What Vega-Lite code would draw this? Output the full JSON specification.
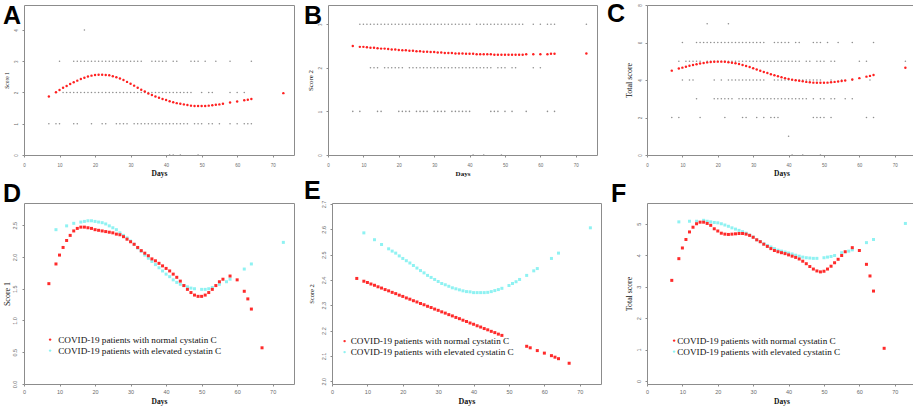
{
  "$schema": "https://vega.github.io/schema/vega-lite/v6.json",
  "background": "white",
  "padding": {"left": 2, "top": 1, "right": 2, "bottom": 2},
  "config": {
    "view": {"stroke": "#8c8c8c", "strokeWidth": 1},
    "title": {"font": "Liberation Sans", "fontSize": 25, "fontWeight": "bold", "color": "#000000", "anchor": "start", "frame": "group", "baseline": "top"},
    "axis": {"grid": false, "domain": false, "tickSize": 2, "tickColor": "#8c8c8c", "labelColor": "#6b6b6b", "labelFont": "Liberation Sans", "labelFontSize": 4.5, "labelFlush": false, "labelOverlap": false, "titleFont": "Liberation Serif", "titleColor": "#111111"},
    "axisX": {"labelPadding": 5, "titleFontWeight": "bold"},
    "axisY": {"labelPadding": 4, "labelAngle": -90, "labelAlign": "center", "labelBaseline": "bottom", "titleFontWeight": "normal"},
    "legend": {"title": null, "labelFont": "Liberation Serif", "labelFontSize": 9.2, "labelColor": "#111111", "labelLimit": 400, "symbolType": "circle", "symbolSize": 6, "symbolStrokeWidth": 0, "rowPadding": 1, "padding": 0}
  },
  "datasets": {
    "a_raw": [
      {"day":17,"score":4},
      {"day":10,"score":3},{"day":14,"score":3},{"day":15,"score":3},{"day":16,"score":3},{"day":17,"score":3},{"day":18,"score":3},{"day":19,"score":3},{"day":20,"score":3},{"day":21,"score":3},{"day":22,"score":3},{"day":23,"score":3},{"day":24,"score":3},{"day":25,"score":3},{"day":26,"score":3},{"day":27,"score":3},{"day":28,"score":3},{"day":29,"score":3},{"day":30,"score":3},{"day":31,"score":3},{"day":32,"score":3},{"day":33,"score":3},{"day":36,"score":3},{"day":37,"score":3},{"day":38,"score":3},{"day":39,"score":3},{"day":40,"score":3},{"day":42,"score":3},{"day":43,"score":3},{"day":47,"score":3},{"day":48,"score":3},{"day":49,"score":3},{"day":51,"score":3},{"day":54,"score":3},{"day":58,"score":3},{"day":64,"score":3},
      {"day":9,"score":2},{"day":11,"score":2},{"day":12,"score":2},{"day":13,"score":2},{"day":14,"score":2},{"day":15,"score":2},{"day":16,"score":2},{"day":17,"score":2},{"day":18,"score":2},{"day":19,"score":2},{"day":20,"score":2},{"day":21,"score":2},{"day":22,"score":2},{"day":23,"score":2},{"day":24,"score":2},{"day":25,"score":2},{"day":26,"score":2},{"day":27,"score":2},{"day":28,"score":2},{"day":29,"score":2},{"day":30,"score":2},{"day":31,"score":2},{"day":32,"score":2},{"day":33,"score":2},{"day":34,"score":2},{"day":35,"score":2},{"day":36,"score":2},{"day":37,"score":2},{"day":38,"score":2},{"day":39,"score":2},{"day":40,"score":2},{"day":41,"score":2},{"day":42,"score":2},{"day":43,"score":2},{"day":44,"score":2},{"day":45,"score":2},{"day":46,"score":2},{"day":47,"score":2},{"day":50,"score":2},{"day":52,"score":2},{"day":53,"score":2},{"day":58,"score":2},{"day":60,"score":2},{"day":62,"score":2},
      {"day":7,"score":1},{"day":9,"score":1},{"day":10,"score":1},{"day":14,"score":1},{"day":15,"score":1},{"day":19,"score":1},{"day":22,"score":1},{"day":23,"score":1},{"day":26,"score":1},{"day":27,"score":1},{"day":28,"score":1},{"day":29,"score":1},{"day":31,"score":1},{"day":32,"score":1},{"day":33,"score":1},{"day":34,"score":1},{"day":35,"score":1},{"day":36,"score":1},{"day":37,"score":1},{"day":38,"score":1},{"day":39,"score":1},{"day":40,"score":1},{"day":41,"score":1},{"day":42,"score":1},{"day":43,"score":1},{"day":44,"score":1},{"day":45,"score":1},{"day":46,"score":1},{"day":48,"score":1},{"day":49,"score":1},{"day":50,"score":1},{"day":52,"score":1},{"day":53,"score":1},{"day":55,"score":1},{"day":58,"score":1},{"day":60,"score":1},{"day":62,"score":1},{"day":63,"score":1},{"day":64,"score":1},
      {"day":41,"score":0},{"day":42,"score":0},{"day":44,"score":0},{"day":49,"score":0}
    ],
    "a_fit": [
      {"day":7,"score":1.87},{"day":9,"score":2.01},{"day":10,"score":2.08},{"day":11,"score":2.15},{"day":12,"score":2.21},{"day":13,"score":2.27},{"day":14,"score":2.33},{"day":15,"score":2.38},{"day":16,"score":2.43},{"day":17,"score":2.47},{"day":18,"score":2.51},{"day":19,"score":2.54},{"day":20,"score":2.56},{"day":21,"score":2.57},{"day":22,"score":2.57},{"day":23,"score":2.56},{"day":24,"score":2.55},{"day":25,"score":2.52},{"day":26,"score":2.49},{"day":27,"score":2.45},{"day":28,"score":2.4},{"day":29,"score":2.34},{"day":30,"score":2.28},{"day":31,"score":2.22},{"day":32,"score":2.15},{"day":33,"score":2.09},{"day":34,"score":2.03},{"day":35,"score":1.97},{"day":36,"score":1.92},{"day":37,"score":1.87},{"day":38,"score":1.83},{"day":39,"score":1.79},{"day":40,"score":1.76},{"day":41,"score":1.72},{"day":42,"score":1.69},{"day":43,"score":1.66},{"day":44,"score":1.64},{"day":45,"score":1.62},{"day":46,"score":1.6},{"day":47,"score":1.58},{"day":48,"score":1.57},{"day":49,"score":1.57},{"day":50,"score":1.57},{"day":51,"score":1.57},{"day":52,"score":1.58},{"day":53,"score":1.59},{"day":54,"score":1.61},{"day":55,"score":1.62},{"day":56,"score":1.64},{"day":58,"score":1.68},{"day":60,"score":1.71},{"day":62,"score":1.75},{"day":63,"score":1.77},{"day":64,"score":1.79},{"day":73,"score":1.98}
    ],
    "b_raw": [
      {"day":9,"score":3},{"day":10,"score":3},{"day":11,"score":3},{"day":12,"score":3},{"day":13,"score":3},{"day":14,"score":3},{"day":15,"score":3},{"day":16,"score":3},{"day":17,"score":3},{"day":18,"score":3},{"day":19,"score":3},{"day":20,"score":3},{"day":21,"score":3},{"day":22,"score":3},{"day":23,"score":3},{"day":24,"score":3},{"day":25,"score":3},{"day":26,"score":3},{"day":27,"score":3},{"day":28,"score":3},{"day":29,"score":3},{"day":30,"score":3},{"day":31,"score":3},{"day":32,"score":3},{"day":33,"score":3},{"day":34,"score":3},{"day":35,"score":3},{"day":36,"score":3},{"day":37,"score":3},{"day":38,"score":3},{"day":39,"score":3},{"day":40,"score":3},{"day":42,"score":3},{"day":43,"score":3},{"day":44,"score":3},{"day":45,"score":3},{"day":46,"score":3},{"day":47,"score":3},{"day":48,"score":3},{"day":49,"score":3},{"day":50,"score":3},{"day":51,"score":3},{"day":52,"score":3},{"day":53,"score":3},{"day":54,"score":3},{"day":55,"score":3},{"day":58,"score":3},{"day":60,"score":3},{"day":62,"score":3},{"day":63,"score":3},{"day":64,"score":3},{"day":73,"score":3},
      {"day":12,"score":2},{"day":13,"score":2},{"day":14,"score":2},{"day":16,"score":2},{"day":17,"score":2},{"day":18,"score":2},{"day":19,"score":2},{"day":20,"score":2},{"day":21,"score":2},{"day":23,"score":2},{"day":24,"score":2},{"day":25,"score":2},{"day":26,"score":2},{"day":27,"score":2},{"day":28,"score":2},{"day":29,"score":2},{"day":30,"score":2},{"day":31,"score":2},{"day":32,"score":2},{"day":33,"score":2},{"day":34,"score":2},{"day":35,"score":2},{"day":36,"score":2},{"day":37,"score":2},{"day":38,"score":2},{"day":39,"score":2},{"day":40,"score":2},{"day":41,"score":2},{"day":42,"score":2},{"day":43,"score":2},{"day":44,"score":2},{"day":45,"score":2},{"day":46,"score":2},{"day":48,"score":2},{"day":49,"score":2},{"day":50,"score":2},{"day":52,"score":2},{"day":53,"score":2},{"day":58,"score":2},{"day":60,"score":2},
      {"day":7,"score":1},{"day":9,"score":1},{"day":14,"score":1},{"day":15,"score":1},{"day":20,"score":1},{"day":21,"score":1},{"day":22,"score":1},{"day":23,"score":1},{"day":25,"score":1},{"day":26,"score":1},{"day":27,"score":1},{"day":28,"score":1},{"day":30,"score":1},{"day":31,"score":1},{"day":32,"score":1},{"day":33,"score":1},{"day":35,"score":1},{"day":36,"score":1},{"day":37,"score":1},{"day":38,"score":1},{"day":39,"score":1},{"day":40,"score":1},{"day":46,"score":1},{"day":47,"score":1},{"day":48,"score":1},{"day":50,"score":1},{"day":52,"score":1},{"day":56,"score":1},{"day":62,"score":1},{"day":64,"score":1},
      {"day":41,"score":0},{"day":44,"score":0},{"day":49,"score":0}
    ],
    "b_fit": [
      {"day":7,"score":2.5},{"day":9,"score":2.48},{"day":10,"score":2.48},{"day":11,"score":2.47},{"day":12,"score":2.46},{"day":13,"score":2.46},{"day":14,"score":2.45},{"day":15,"score":2.44},{"day":16,"score":2.44},{"day":17,"score":2.43},{"day":18,"score":2.42},{"day":19,"score":2.42},{"day":20,"score":2.41},{"day":21,"score":2.4},{"day":22,"score":2.4},{"day":23,"score":2.39},{"day":24,"score":2.39},{"day":25,"score":2.38},{"day":26,"score":2.38},{"day":27,"score":2.37},{"day":28,"score":2.37},{"day":29,"score":2.36},{"day":30,"score":2.36},{"day":31,"score":2.35},{"day":32,"score":2.35},{"day":33,"score":2.34},{"day":34,"score":2.34},{"day":35,"score":2.34},{"day":36,"score":2.33},{"day":37,"score":2.33},{"day":38,"score":2.33},{"day":39,"score":2.32},{"day":40,"score":2.32},{"day":41,"score":2.32},{"day":42,"score":2.31},{"day":43,"score":2.31},{"day":44,"score":2.31},{"day":45,"score":2.31},{"day":46,"score":2.31},{"day":47,"score":2.3},{"day":48,"score":2.3},{"day":49,"score":2.3},{"day":50,"score":2.3},{"day":51,"score":2.3},{"day":52,"score":2.3},{"day":53,"score":2.3},{"day":54,"score":2.3},{"day":55,"score":2.3},{"day":56,"score":2.31},{"day":58,"score":2.31},{"day":60,"score":2.31},{"day":62,"score":2.31},{"day":63,"score":2.32},{"day":64,"score":2.32},{"day":73,"score":2.33}
    ],
    "c_raw": [
      {"day":17,"score":7},{"day":23,"score":7},
      {"day":10,"score":6},{"day":14,"score":6},{"day":15,"score":6},{"day":16,"score":6},{"day":17,"score":6},{"day":18,"score":6},{"day":19,"score":6},{"day":20,"score":6},{"day":21,"score":6},{"day":22,"score":6},{"day":23,"score":6},{"day":24,"score":6},{"day":25,"score":6},{"day":26,"score":6},{"day":27,"score":6},{"day":28,"score":6},{"day":29,"score":6},{"day":30,"score":6},{"day":31,"score":6},{"day":32,"score":6},{"day":33,"score":6},{"day":36,"score":6},{"day":37,"score":6},{"day":38,"score":6},{"day":39,"score":6},{"day":40,"score":6},{"day":42,"score":6},{"day":43,"score":6},{"day":47,"score":6},{"day":48,"score":6},{"day":49,"score":6},{"day":51,"score":6},{"day":54,"score":6},{"day":58,"score":6},{"day":64,"score":6},
      {"day":9,"score":5},{"day":11,"score":5},{"day":12,"score":5},{"day":13,"score":5},{"day":14,"score":5},{"day":15,"score":5},{"day":17,"score":5},{"day":18,"score":5},{"day":19,"score":5},{"day":20,"score":5},{"day":21,"score":5},{"day":22,"score":5},{"day":23,"score":5},{"day":24,"score":5},{"day":25,"score":5},{"day":26,"score":5},{"day":27,"score":5},{"day":28,"score":5},{"day":29,"score":5},{"day":30,"score":5},{"day":31,"score":5},{"day":32,"score":5},{"day":33,"score":5},{"day":34,"score":5},{"day":35,"score":5},{"day":36,"score":5},{"day":37,"score":5},{"day":38,"score":5},{"day":39,"score":5},{"day":40,"score":5},{"day":41,"score":5},{"day":42,"score":5},{"day":43,"score":5},{"day":45,"score":5},{"day":46,"score":5},{"day":48,"score":5},{"day":49,"score":5},{"day":50,"score":5},{"day":52,"score":5},{"day":53,"score":5},{"day":60,"score":5},{"day":62,"score":5},{"day":73,"score":5},
      {"day":10,"score":4},{"day":12,"score":4},{"day":13,"score":4},{"day":19,"score":4},{"day":21,"score":4},{"day":23,"score":4},{"day":24,"score":4},{"day":25,"score":4},{"day":26,"score":4},{"day":27,"score":4},{"day":28,"score":4},{"day":29,"score":4},{"day":30,"score":4},{"day":31,"score":4},{"day":32,"score":4},{"day":33,"score":4},{"day":36,"score":4},{"day":37,"score":4},{"day":38,"score":4},{"day":39,"score":4},{"day":40,"score":4},{"day":41,"score":4},{"day":42,"score":4},{"day":43,"score":4},{"day":44,"score":4},{"day":45,"score":4},{"day":46,"score":4},{"day":47,"score":4},{"day":48,"score":4},{"day":49,"score":4},{"day":52,"score":4},{"day":55,"score":4},{"day":58,"score":4},{"day":63,"score":4},
      {"day":14,"score":3},{"day":19,"score":3},{"day":20,"score":3},{"day":21,"score":3},{"day":22,"score":3},{"day":23,"score":3},{"day":24,"score":3},{"day":26,"score":3},{"day":27,"score":3},{"day":28,"score":3},{"day":29,"score":3},{"day":30,"score":3},{"day":31,"score":3},{"day":32,"score":3},{"day":33,"score":3},{"day":34,"score":3},{"day":35,"score":3},{"day":36,"score":3},{"day":37,"score":3},{"day":38,"score":3},{"day":39,"score":3},{"day":40,"score":3},{"day":41,"score":3},{"day":42,"score":3},{"day":43,"score":3},{"day":44,"score":3},{"day":45,"score":3},{"day":47,"score":3},{"day":49,"score":3},{"day":50,"score":3},{"day":52,"score":3},{"day":53,"score":3},{"day":56,"score":3},{"day":58,"score":3},
      {"day":7,"score":2},{"day":9,"score":2},{"day":15,"score":2},{"day":22,"score":2},{"day":27,"score":2},{"day":28,"score":2},{"day":31,"score":2},{"day":33,"score":2},{"day":35,"score":2},{"day":36,"score":2},{"day":37,"score":2},{"day":47,"score":2},{"day":48,"score":2},{"day":49,"score":2},{"day":50,"score":2},{"day":52,"score":2},{"day":62,"score":2},{"day":64,"score":2},
      {"day":40,"score":1},
      {"day":41,"score":0},{"day":44,"score":0},{"day":49,"score":0}
    ],
    "c_fit": [
      {"day":7,"score":4.5},{"day":9,"score":4.61},{"day":10,"score":4.66},{"day":11,"score":4.71},{"day":12,"score":4.76},{"day":13,"score":4.8},{"day":14,"score":4.84},{"day":15,"score":4.88},{"day":16,"score":4.91},{"day":17,"score":4.94},{"day":18,"score":4.96},{"day":19,"score":4.97},{"day":20,"score":4.98},{"day":21,"score":4.98},{"day":22,"score":4.97},{"day":23,"score":4.95},{"day":24,"score":4.92},{"day":25,"score":4.89},{"day":26,"score":4.85},{"day":27,"score":4.8},{"day":28,"score":4.75},{"day":29,"score":4.69},{"day":30,"score":4.63},{"day":31,"score":4.56},{"day":32,"score":4.49},{"day":33,"score":4.43},{"day":34,"score":4.37},{"day":35,"score":4.31},{"day":36,"score":4.25},{"day":37,"score":4.2},{"day":38,"score":4.15},{"day":39,"score":4.1},{"day":40,"score":4.06},{"day":41,"score":4.02},{"day":42,"score":3.99},{"day":43,"score":3.96},{"day":44,"score":3.93},{"day":45,"score":3.9},{"day":46,"score":3.88},{"day":47,"score":3.86},{"day":48,"score":3.85},{"day":49,"score":3.85},{"day":50,"score":3.85},{"day":51,"score":3.86},{"day":52,"score":3.88},{"day":53,"score":3.9},{"day":54,"score":3.92},{"day":55,"score":3.95},{"day":56,"score":3.97},{"day":58,"score":4.03},{"day":60,"score":4.1},{"day":62,"score":4.18},{"day":63,"score":4.22},{"day":64,"score":4.27},{"day":73,"score":4.65}
    ],
    "d_pts": [
      {"day":9,"score":2.43,"cystatin":"elevated"},{"day":12,"score":2.49,"cystatin":"elevated"},{"day":14,"score":2.53,"cystatin":"elevated"},{"day":16,"score":2.55,"cystatin":"elevated"},{"day":17,"score":2.56,"cystatin":"elevated"},{"day":18,"score":2.57,"cystatin":"elevated"},{"day":19,"score":2.57,"cystatin":"elevated"},{"day":20,"score":2.56,"cystatin":"elevated"},{"day":21,"score":2.55,"cystatin":"elevated"},{"day":22,"score":2.54,"cystatin":"elevated"},{"day":23,"score":2.52,"cystatin":"elevated"},{"day":24,"score":2.49,"cystatin":"elevated"},{"day":25,"score":2.46,"cystatin":"elevated"},{"day":26,"score":2.43,"cystatin":"elevated"},{"day":27,"score":2.38,"cystatin":"elevated"},{"day":28,"score":2.34,"cystatin":"elevated"},{"day":29,"score":2.3,"cystatin":"elevated"},{"day":30,"score":2.25,"cystatin":"elevated"},{"day":31,"score":2.2,"cystatin":"elevated"},{"day":32,"score":2.14,"cystatin":"elevated"},{"day":33,"score":2.09,"cystatin":"elevated"},{"day":34,"score":2.03,"cystatin":"elevated"},{"day":35,"score":1.98,"cystatin":"elevated"},{"day":36,"score":1.93,"cystatin":"elevated"},{"day":37,"score":1.88,"cystatin":"elevated"},{"day":38,"score":1.83,"cystatin":"elevated"},{"day":39,"score":1.78,"cystatin":"elevated"},{"day":40,"score":1.73,"cystatin":"elevated"},{"day":41,"score":1.69,"cystatin":"elevated"},{"day":42,"score":1.64,"cystatin":"elevated"},{"day":43,"score":1.6,"cystatin":"elevated"},{"day":44,"score":1.57,"cystatin":"elevated"},{"day":45,"score":1.55,"cystatin":"elevated"},{"day":46,"score":1.53,"cystatin":"elevated"},{"day":47,"score":1.51,"cystatin":"elevated"},{"day":48,"score":1.5,"cystatin":"elevated"},{"day":50,"score":1.49,"cystatin":"elevated"},{"day":51,"score":1.49,"cystatin":"elevated"},{"day":52,"score":1.5,"cystatin":"elevated"},{"day":53,"score":1.52,"cystatin":"elevated"},{"day":55,"score":1.57,"cystatin":"elevated"},{"day":57,"score":1.61,"cystatin":"elevated"},{"day":58,"score":1.65,"cystatin":"elevated"},{"day":62,"score":1.81,"cystatin":"elevated"},{"day":64,"score":1.89,"cystatin":"elevated"},{"day":73,"score":2.23,"cystatin":"elevated"},
      {"day":7,"score":1.58,"cystatin":"normal"},{"day":9,"score":1.89,"cystatin":"normal"},{"day":10,"score":2.03,"cystatin":"normal"},{"day":11,"score":2.15,"cystatin":"normal"},{"day":12,"score":2.26,"cystatin":"normal"},{"day":13,"score":2.34,"cystatin":"normal"},{"day":14,"score":2.41,"cystatin":"normal"},{"day":15,"score":2.45,"cystatin":"normal"},{"day":16,"score":2.47,"cystatin":"normal"},{"day":17,"score":2.47,"cystatin":"normal"},{"day":18,"score":2.46,"cystatin":"normal"},{"day":19,"score":2.45,"cystatin":"normal"},{"day":20,"score":2.43,"cystatin":"normal"},{"day":21,"score":2.42,"cystatin":"normal"},{"day":22,"score":2.41,"cystatin":"normal"},{"day":23,"score":2.4,"cystatin":"normal"},{"day":24,"score":2.39,"cystatin":"normal"},{"day":25,"score":2.38,"cystatin":"normal"},{"day":26,"score":2.36,"cystatin":"normal"},{"day":27,"score":2.35,"cystatin":"normal"},{"day":28,"score":2.32,"cystatin":"normal"},{"day":29,"score":2.28,"cystatin":"normal"},{"day":30,"score":2.24,"cystatin":"normal"},{"day":31,"score":2.2,"cystatin":"normal"},{"day":32,"score":2.15,"cystatin":"normal"},{"day":33,"score":2.1,"cystatin":"normal"},{"day":34,"score":2.06,"cystatin":"normal"},{"day":35,"score":2.02,"cystatin":"normal"},{"day":36,"score":1.97,"cystatin":"normal"},{"day":37,"score":1.94,"cystatin":"normal"},{"day":38,"score":1.9,"cystatin":"normal"},{"day":39,"score":1.86,"cystatin":"normal"},{"day":40,"score":1.82,"cystatin":"normal"},{"day":41,"score":1.78,"cystatin":"normal"},{"day":42,"score":1.73,"cystatin":"normal"},{"day":43,"score":1.68,"cystatin":"normal"},{"day":44,"score":1.62,"cystatin":"normal"},{"day":45,"score":1.55,"cystatin":"normal"},{"day":46,"score":1.49,"cystatin":"normal"},{"day":47,"score":1.44,"cystatin":"normal"},{"day":48,"score":1.4,"cystatin":"normal"},{"day":49,"score":1.38,"cystatin":"normal"},{"day":50,"score":1.38,"cystatin":"normal"},{"day":51,"score":1.4,"cystatin":"normal"},{"day":52,"score":1.44,"cystatin":"normal"},{"day":53,"score":1.49,"cystatin":"normal"},{"day":54,"score":1.55,"cystatin":"normal"},{"day":55,"score":1.61,"cystatin":"normal"},{"day":56,"score":1.65,"cystatin":"normal"},{"day":58,"score":1.7,"cystatin":"normal"},{"day":60,"score":1.64,"cystatin":"normal"},{"day":62,"score":1.46,"cystatin":"normal"},{"day":63,"score":1.34,"cystatin":"normal"},{"day":64,"score":1.18,"cystatin":"normal"},{"day":67,"score":0.57,"cystatin":"normal"}
    ],
    "e_pts": [
      {"day":9,"score":2.586,"cystatin":"elevated"},{"day":12,"score":2.559,"cystatin":"elevated"},{"day":14,"score":2.54,"cystatin":"elevated"},{"day":16,"score":2.523,"cystatin":"elevated"},{"day":17,"score":2.514,"cystatin":"elevated"},{"day":18,"score":2.506,"cystatin":"elevated"},{"day":19,"score":2.495,"cystatin":"elevated"},{"day":20,"score":2.485,"cystatin":"elevated"},{"day":21,"score":2.476,"cystatin":"elevated"},{"day":22,"score":2.467,"cystatin":"elevated"},{"day":23,"score":2.457,"cystatin":"elevated"},{"day":24,"score":2.447,"cystatin":"elevated"},{"day":25,"score":2.437,"cystatin":"elevated"},{"day":26,"score":2.428,"cystatin":"elevated"},{"day":27,"score":2.418,"cystatin":"elevated"},{"day":28,"score":2.41,"cystatin":"elevated"},{"day":29,"score":2.402,"cystatin":"elevated"},{"day":30,"score":2.394,"cystatin":"elevated"},{"day":31,"score":2.386,"cystatin":"elevated"},{"day":32,"score":2.381,"cystatin":"elevated"},{"day":33,"score":2.375,"cystatin":"elevated"},{"day":34,"score":2.369,"cystatin":"elevated"},{"day":35,"score":2.365,"cystatin":"elevated"},{"day":36,"score":2.361,"cystatin":"elevated"},{"day":37,"score":2.357,"cystatin":"elevated"},{"day":38,"score":2.354,"cystatin":"elevated"},{"day":39,"score":2.353,"cystatin":"elevated"},{"day":40,"score":2.35,"cystatin":"elevated"},{"day":41,"score":2.35,"cystatin":"elevated"},{"day":42,"score":2.35,"cystatin":"elevated"},{"day":43,"score":2.35,"cystatin":"elevated"},{"day":44,"score":2.351,"cystatin":"elevated"},{"day":45,"score":2.354,"cystatin":"elevated"},{"day":46,"score":2.358,"cystatin":"elevated"},{"day":47,"score":2.362,"cystatin":"elevated"},{"day":48,"score":2.367,"cystatin":"elevated"},{"day":50,"score":2.378,"cystatin":"elevated"},{"day":51,"score":2.386,"cystatin":"elevated"},{"day":52,"score":2.393,"cystatin":"elevated"},{"day":53,"score":2.402,"cystatin":"elevated"},{"day":55,"score":2.418,"cystatin":"elevated"},{"day":57,"score":2.436,"cystatin":"elevated"},{"day":58,"score":2.445,"cystatin":"elevated"},{"day":62,"score":2.485,"cystatin":"elevated"},{"day":64,"score":2.506,"cystatin":"elevated"},{"day":73,"score":2.606,"cystatin":"elevated"},
      {"day":7,"score":2.406,"cystatin":"normal"},{"day":9,"score":2.395,"cystatin":"normal"},{"day":10,"score":2.39,"cystatin":"normal"},{"day":11,"score":2.384,"cystatin":"normal"},{"day":12,"score":2.379,"cystatin":"normal"},{"day":13,"score":2.373,"cystatin":"normal"},{"day":14,"score":2.368,"cystatin":"normal"},{"day":15,"score":2.362,"cystatin":"normal"},{"day":16,"score":2.357,"cystatin":"normal"},{"day":17,"score":2.351,"cystatin":"normal"},{"day":18,"score":2.346,"cystatin":"normal"},{"day":19,"score":2.34,"cystatin":"normal"},{"day":20,"score":2.335,"cystatin":"normal"},{"day":21,"score":2.329,"cystatin":"normal"},{"day":22,"score":2.324,"cystatin":"normal"},{"day":23,"score":2.318,"cystatin":"normal"},{"day":24,"score":2.313,"cystatin":"normal"},{"day":25,"score":2.307,"cystatin":"normal"},{"day":26,"score":2.302,"cystatin":"normal"},{"day":27,"score":2.296,"cystatin":"normal"},{"day":28,"score":2.291,"cystatin":"normal"},{"day":29,"score":2.285,"cystatin":"normal"},{"day":30,"score":2.28,"cystatin":"normal"},{"day":31,"score":2.274,"cystatin":"normal"},{"day":32,"score":2.269,"cystatin":"normal"},{"day":33,"score":2.263,"cystatin":"normal"},{"day":34,"score":2.258,"cystatin":"normal"},{"day":35,"score":2.252,"cystatin":"normal"},{"day":36,"score":2.247,"cystatin":"normal"},{"day":37,"score":2.241,"cystatin":"normal"},{"day":38,"score":2.236,"cystatin":"normal"},{"day":39,"score":2.23,"cystatin":"normal"},{"day":40,"score":2.225,"cystatin":"normal"},{"day":41,"score":2.219,"cystatin":"normal"},{"day":42,"score":2.214,"cystatin":"normal"},{"day":43,"score":2.208,"cystatin":"normal"},{"day":44,"score":2.203,"cystatin":"normal"},{"day":45,"score":2.197,"cystatin":"normal"},{"day":46,"score":2.192,"cystatin":"normal"},{"day":47,"score":2.186,"cystatin":"normal"},{"day":48,"score":2.181,"cystatin":"normal"},{"day":55,"score":2.138,"cystatin":"normal"},{"day":56,"score":2.132,"cystatin":"normal"},{"day":58,"score":2.121,"cystatin":"normal"},{"day":60,"score":2.111,"cystatin":"normal"},{"day":62,"score":2.101,"cystatin":"normal"},{"day":63,"score":2.095,"cystatin":"normal"},{"day":64,"score":2.089,"cystatin":"normal"},{"day":67,"score":2.071,"cystatin":"normal"}
    ],
    "f_pts": [
      {"day":9,"score":5.06,"cystatin":"elevated"},{"day":12,"score":5.08,"cystatin":"elevated"},{"day":14,"score":5.08,"cystatin":"elevated"},{"day":16,"score":5.11,"cystatin":"elevated"},{"day":17,"score":5.08,"cystatin":"elevated"},{"day":18,"score":5.06,"cystatin":"elevated"},{"day":19,"score":5.04,"cystatin":"elevated"},{"day":20,"score":5.03,"cystatin":"elevated"},{"day":21,"score":5.0,"cystatin":"elevated"},{"day":22,"score":4.96,"cystatin":"elevated"},{"day":23,"score":4.92,"cystatin":"elevated"},{"day":24,"score":4.87,"cystatin":"elevated"},{"day":25,"score":4.83,"cystatin":"elevated"},{"day":26,"score":4.79,"cystatin":"elevated"},{"day":27,"score":4.75,"cystatin":"elevated"},{"day":28,"score":4.7,"cystatin":"elevated"},{"day":29,"score":4.64,"cystatin":"elevated"},{"day":30,"score":4.58,"cystatin":"elevated"},{"day":31,"score":4.49,"cystatin":"elevated"},{"day":32,"score":4.43,"cystatin":"elevated"},{"day":33,"score":4.36,"cystatin":"elevated"},{"day":34,"score":4.31,"cystatin":"elevated"},{"day":35,"score":4.26,"cystatin":"elevated"},{"day":36,"score":4.21,"cystatin":"elevated"},{"day":37,"score":4.16,"cystatin":"elevated"},{"day":38,"score":4.13,"cystatin":"elevated"},{"day":39,"score":4.1,"cystatin":"elevated"},{"day":40,"score":4.07,"cystatin":"elevated"},{"day":41,"score":4.04,"cystatin":"elevated"},{"day":42,"score":4.0,"cystatin":"elevated"},{"day":43,"score":3.97,"cystatin":"elevated"},{"day":44,"score":3.94,"cystatin":"elevated"},{"day":45,"score":3.92,"cystatin":"elevated"},{"day":46,"score":3.91,"cystatin":"elevated"},{"day":47,"score":3.9,"cystatin":"elevated"},{"day":48,"score":3.9,"cystatin":"elevated"},{"day":50,"score":3.92,"cystatin":"elevated"},{"day":51,"score":3.94,"cystatin":"elevated"},{"day":52,"score":3.96,"cystatin":"elevated"},{"day":53,"score":3.99,"cystatin":"elevated"},{"day":55,"score":4.08,"cystatin":"elevated"},{"day":57,"score":4.13,"cystatin":"elevated"},{"day":58,"score":4.17,"cystatin":"elevated"},{"day":62,"score":4.4,"cystatin":"elevated"},{"day":64,"score":4.5,"cystatin":"elevated"},{"day":73,"score":5.01,"cystatin":"elevated"},
      {"day":7,"score":3.2,"cystatin":"normal"},{"day":9,"score":3.89,"cystatin":"normal"},{"day":10,"score":4.23,"cystatin":"normal"},{"day":11,"score":4.5,"cystatin":"normal"},{"day":12,"score":4.74,"cystatin":"normal"},{"day":13,"score":4.89,"cystatin":"normal"},{"day":14,"score":5.0,"cystatin":"normal"},{"day":15,"score":5.05,"cystatin":"normal"},{"day":16,"score":5.05,"cystatin":"normal"},{"day":17,"score":5.01,"cystatin":"normal"},{"day":18,"score":4.95,"cystatin":"normal"},{"day":19,"score":4.84,"cystatin":"normal"},{"day":20,"score":4.77,"cystatin":"normal"},{"day":21,"score":4.7,"cystatin":"normal"},{"day":22,"score":4.67,"cystatin":"normal"},{"day":23,"score":4.66,"cystatin":"normal"},{"day":24,"score":4.67,"cystatin":"normal"},{"day":25,"score":4.68,"cystatin":"normal"},{"day":26,"score":4.69,"cystatin":"normal"},{"day":27,"score":4.69,"cystatin":"normal"},{"day":28,"score":4.67,"cystatin":"normal"},{"day":29,"score":4.63,"cystatin":"normal"},{"day":30,"score":4.57,"cystatin":"normal"},{"day":31,"score":4.49,"cystatin":"normal"},{"day":32,"score":4.43,"cystatin":"normal"},{"day":33,"score":4.35,"cystatin":"normal"},{"day":34,"score":4.28,"cystatin":"normal"},{"day":35,"score":4.21,"cystatin":"normal"},{"day":36,"score":4.15,"cystatin":"normal"},{"day":37,"score":4.11,"cystatin":"normal"},{"day":38,"score":4.08,"cystatin":"normal"},{"day":39,"score":4.05,"cystatin":"normal"},{"day":40,"score":4.01,"cystatin":"normal"},{"day":41,"score":3.97,"cystatin":"normal"},{"day":42,"score":3.93,"cystatin":"normal"},{"day":43,"score":3.88,"cystatin":"normal"},{"day":44,"score":3.81,"cystatin":"normal"},{"day":45,"score":3.73,"cystatin":"normal"},{"day":46,"score":3.64,"cystatin":"normal"},{"day":47,"score":3.56,"cystatin":"normal"},{"day":48,"score":3.5,"cystatin":"normal"},{"day":49,"score":3.47,"cystatin":"normal"},{"day":50,"score":3.49,"cystatin":"normal"},{"day":51,"score":3.56,"cystatin":"normal"},{"day":52,"score":3.65,"cystatin":"normal"},{"day":53,"score":3.76,"cystatin":"normal"},{"day":54,"score":3.87,"cystatin":"normal"},{"day":55,"score":3.99,"cystatin":"normal"},{"day":56,"score":4.11,"cystatin":"normal"},{"day":58,"score":4.24,"cystatin":"normal"},{"day":60,"score":4.15,"cystatin":"normal"},{"day":62,"score":3.71,"cystatin":"normal"},{"day":63,"score":3.34,"cystatin":"normal"},{"day":64,"score":2.86,"cystatin":"normal"},{"day":67,"score":1.04,"cystatin":"normal"}
    ]
  },
  "resolve": {"scale": {"color": "independent"}, "legend": {"color": "independent"}},
  "spacing": 0,
  "vconcat": [
    {
      "spacing": 8,
      "hconcat": [
        {
          "width": 270, "height": 150,
          "title": {"text": "A", "dx": -21, "offset": -23.5},
          "encoding": {
            "x": {"field": "day", "type": "quantitative", "scale": {"domain": [0, 76], "nice": false, "zero": false}, "axis": {"values": [0,10,20,30,40,50,60,70], "title": "Days", "titleFontSize": 7.5, "titlePadding": 3}},
            "y": {"field": "score", "type": "quantitative", "scale": {"domain": [0, 4.8], "nice": false}, "axis": {"values": [0,1,2,3,4], "title": "Score 1", "titleFontSize": 5.5, "titlePadding": 3.5}}
          },
          "layer": [
            {"data": {"name": "a_raw"}, "mark": {"type": "circle", "size": 2.5, "color": "#8f8f8f", "opacity": 1}},
            {"data": {"name": "a_fit"}, "mark": {"type": "circle", "size": 6, "color": "#ff2020", "opacity": 1}}
          ]
        },
        {
          "width": 269, "height": 150,
          "title": {"text": "B", "dx": -24, "offset": -23.5},
          "encoding": {
            "x": {"field": "day", "type": "quantitative", "scale": {"domain": [0, 76], "nice": false, "zero": false}, "axis": {"values": [0,10,20,30,40,50,60,70], "title": "Days", "titleFontSize": 7, "titlePadding": 3}},
            "y": {"field": "score", "type": "quantitative", "scale": {"domain": [0, 3.44], "nice": false}, "axis": {"values": [0,1,2,3], "title": "Score 2", "titleFontSize": 7, "titlePadding": 3.6}}
          },
          "layer": [
            {"data": {"name": "b_raw"}, "mark": {"type": "circle", "size": 2.5, "color": "#8f8f8f", "opacity": 1}},
            {"data": {"name": "b_fit"}, "mark": {"type": "circle", "size": 6, "color": "#ff2020", "opacity": 1}}
          ]
        },
        {
          "width": 269, "height": 150,
          "title": {"text": "C", "dx": -40, "offset": -23.5},
          "encoding": {
            "x": {"field": "day", "type": "quantitative", "scale": {"domain": [0, 76], "nice": false, "zero": false}, "axis": {"values": [0,10,20,30,40,50,60,70], "title": "Days", "titleFontSize": 7.5, "titlePadding": 3}},
            "y": {"field": "score", "type": "quantitative", "scale": {"domain": [0, 8], "nice": false}, "axis": {"values": [0,2,4,6,8], "title": "Total score", "titleFontSize": 8, "titlePadding": 3.6, "labelPadding": 2.5}}
          },
          "layer": [
            {"data": {"name": "c_raw"}, "mark": {"type": "circle", "size": 2.5, "color": "#8f8f8f", "opacity": 1}},
            {"data": {"name": "c_fit"}, "mark": {"type": "circle", "size": 6, "color": "#ff2020", "opacity": 1}}
          ]
        }
      ]
    },
    {
      "spacing": 8,
      "resolve": {"scale": {"color": "independent"}, "legend": {"color": "independent"}},
      "hconcat": [
        {
          "width": 270, "height": 181,
          "title": {"text": "D", "dx": -21, "offset": -4},
          "data": {"name": "d_pts"},
          "mark": {"type": "square", "size": 9, "opacity": 1},
          "encoding": {
            "x": {"field": "day", "type": "quantitative", "scale": {"domain": [0, 76], "nice": false, "zero": false}, "axis": {"values": [0,10,20,30,40,50,60,70], "title": "Days", "titleFontSize": 7.5, "titlePadding": 2, "labelFontSize": 5.5, "labelPadding": 3.5}},
            "y": {"field": "score", "type": "quantitative", "scale": {"domain": [0, 2.85], "nice": false}, "axis": {"values": [0,0.5,1,1.5,2,2.5], "format": ".1f", "title": "Score 1", "titleFontSize": 8, "titlePadding": 1, "labelFontSize": 5.5, "labelPadding": 5}},
            "color": {"field": "cystatin", "type": "nominal", "scale": {"domain": ["normal", "elevated"], "range": ["#ff2b2b", "#8ff2f2"]}, "legend": {"orient": "none", "legendX": 21.5, "legendY": 132, "labelOffset": 3.5, "labelExpr": "'COVID-19 patients with ' + datum.label + ' cystatin C'"}}
          }
        },
        {
          "width": 269, "height": 181,
          "title": {"text": "E", "dx": -28, "offset": -4},
          "data": {"name": "e_pts"},
          "mark": {"type": "square", "size": 9, "opacity": 1},
          "encoding": {
            "x": {"field": "day", "type": "quantitative", "scale": {"domain": [0, 76], "nice": false, "zero": false}, "axis": {"values": [0,10,20,30,40,50,60,70], "title": "Days", "titleFontSize": 8, "titlePadding": 2, "labelFontSize": 5.5, "labelPadding": 3.5}},
            "y": {"field": "score", "type": "quantitative", "scale": {"domain": [1.989, 2.704], "nice": false, "zero": false}, "axis": {"values": [2.0,2.1,2.2,2.3,2.4,2.5,2.6,2.7], "format": ".1f", "title": "Score 2", "titleFontSize": 6.5, "titlePadding": 7, "labelFontSize": 5.5, "labelPadding": 4}},
            "color": {"field": "cystatin", "type": "nominal", "scale": {"domain": ["normal", "elevated"], "range": ["#ff2b2b", "#8ff2f2"]}, "legend": {"orient": "none", "legendX": 8, "legendY": 133.5, "labelOffset": 1.5, "labelExpr": "'COVID-19 patients with ' + datum.label + ' cystatin C'"}}
          }
        },
        {
          "width": 269, "height": 181,
          "title": {"text": "F", "dx": -36, "offset": -4},
          "data": {"name": "f_pts"},
          "mark": {"type": "square", "size": 9, "opacity": 1},
          "encoding": {
            "x": {"field": "day", "type": "quantitative", "scale": {"domain": [0, 76], "nice": false, "zero": false}, "axis": {"values": [0,10,20,30,40,50,60,70], "title": "Days", "titleFontSize": 7.5, "titlePadding": 2, "labelFontSize": 5.5, "labelPadding": 3.5}},
            "y": {"field": "score", "type": "quantitative", "scale": {"domain": [-0.095, 5.66], "nice": false, "zero": false}, "axis": {"values": [0,1,2,3,4,5], "title": "Total score", "titleFontSize": 7.8, "titlePadding": 2.2, "labelFontSize": 5.5, "labelPadding": 4}},
            "color": {"field": "cystatin", "type": "nominal", "scale": {"domain": ["normal", "elevated"], "range": ["#ff2b2b", "#8ff2f2"]}, "legend": {"orient": "none", "legendX": 22.5, "legendY": 133, "labelOffset": -1.5, "labelExpr": "'COVID-19 patients with ' + datum.label + ' cystatin C'"}}
          }
        }
      ]
    }
  ]
}
